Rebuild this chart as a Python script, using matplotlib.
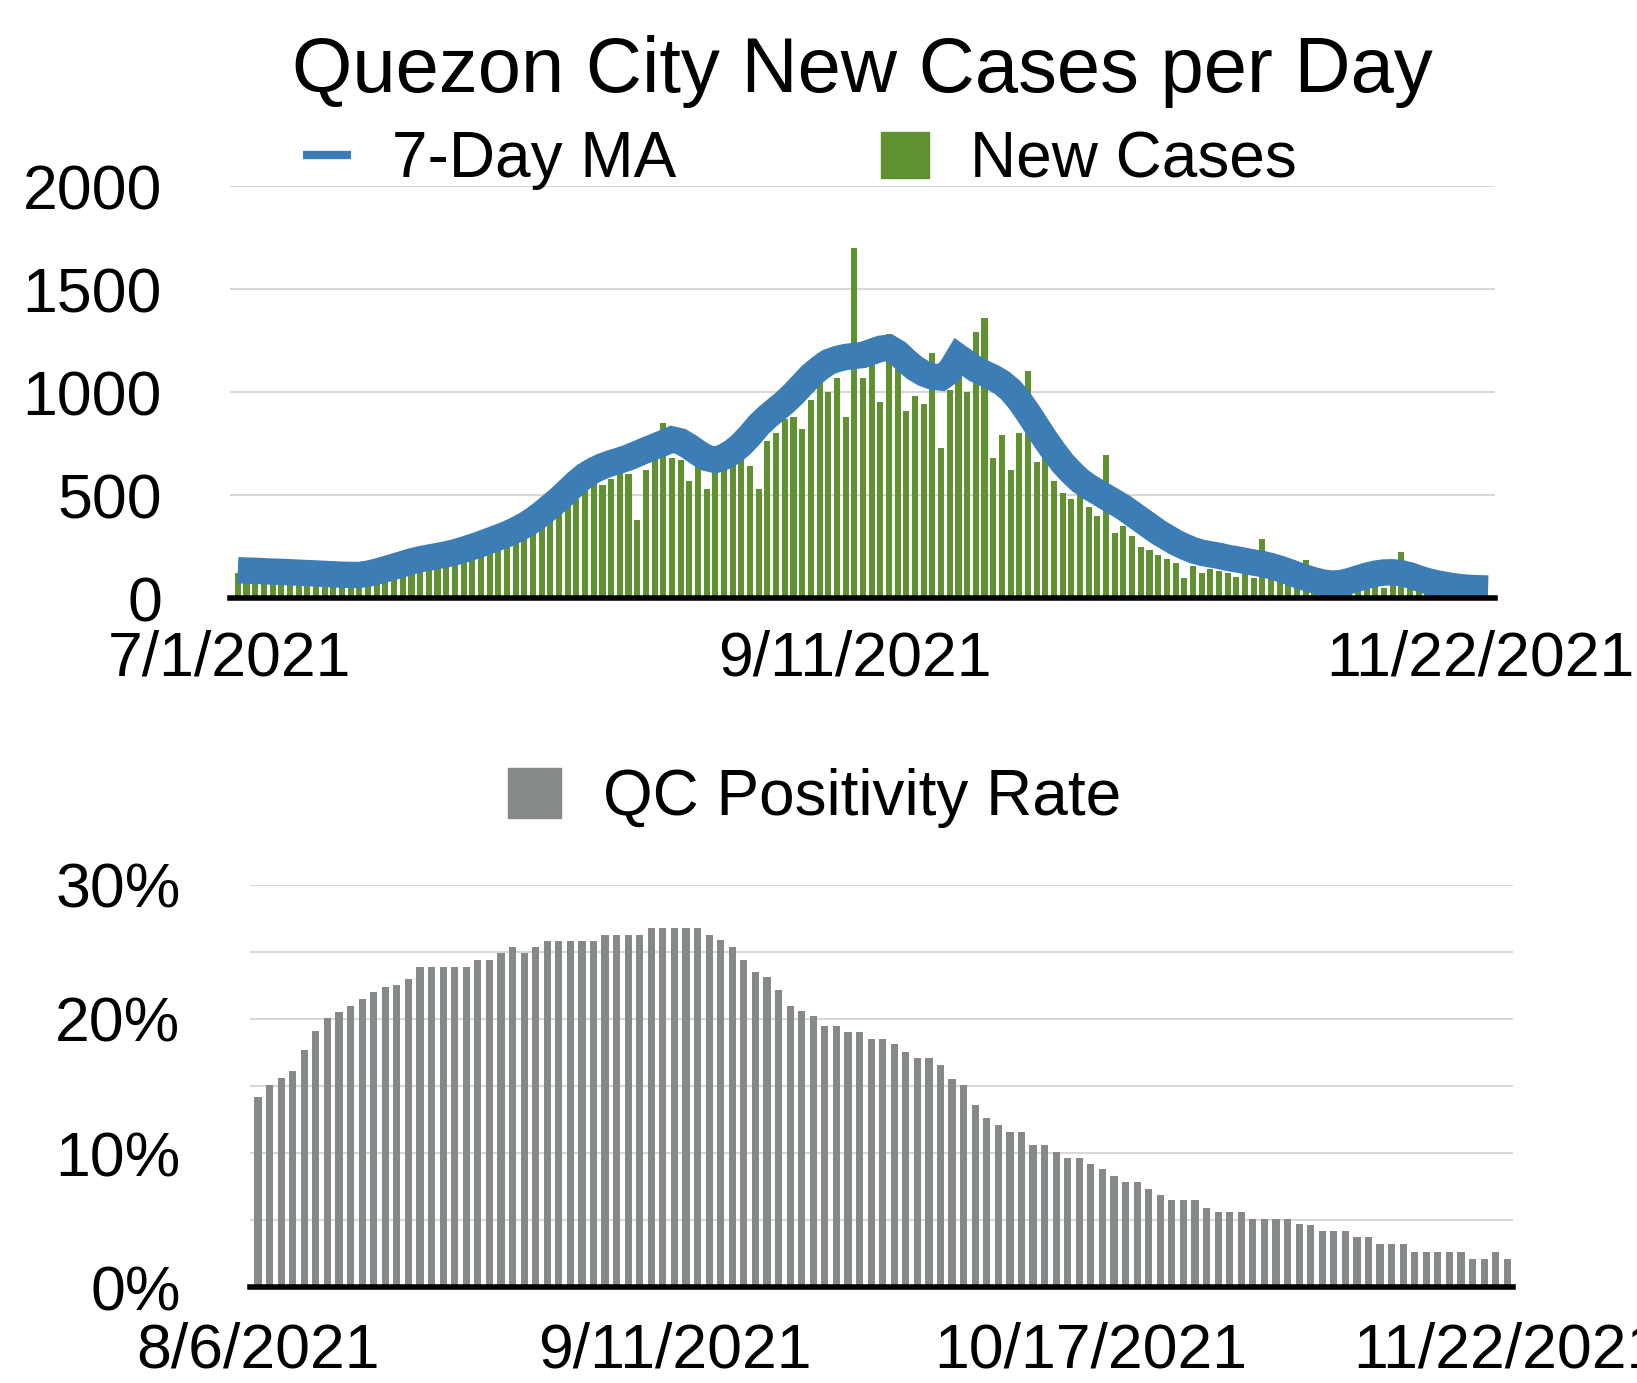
import matplotlib
matplotlib.use("Agg")
import matplotlib.pyplot as plt
import matplotlib.transforms as mtransforms
from matplotlib.lines import Line2D
from matplotlib.patches import Patch

plt.rcParams['font.family'] = ['Liberation Sans', 'DejaVu Sans']

# New cases per day, 7/1/2021 .. 11/22/2021 (145 days)
new_cases = [120, 135, 110, 95, 140, 130, 125, 105, 120, 95,
             115, 100, 110, 90, 105, 120, 130, 150, 170, 160,
             190, 200, 175, 210, 225, 215, 240, 250, 230, 280,
             300, 290, 330, 300, 340, 380, 420, 520, 450, 480,
             540, 560, 550, 580, 610, 600, 380, 620, 700, 850,
             680, 670, 570, 640, 530, 610, 650, 690, 700, 640,
             530, 760, 800, 870, 880, 820, 960, 1190, 1000, 1070,
             880, 1700, 1070, 1130, 950, 1280, 1210, 910, 980, 940,
             1190, 730, 1010, 1180, 1000, 1290, 1360, 680, 790, 620,
             800, 1100, 660, 850, 570, 510, 480, 520, 440, 400,
             695, 315, 350, 300, 250, 235, 210, 190, 170, 95,
             155, 120, 140, 130, 120, 100, 130, 95, 285, 90,
             85, 80, 60, 185, 40, 25, 20, 30, 25, 45,
             55, 60, 50, 70, 225, 55, 40, 30, 20, 15,
             20, 10, 15, 20, 10]

# 7-day moving average as drawn
ma7 = [135, 133, 132, 130, 128, 127, 125, 123, 121, 119,
       117, 115, 113, 112, 112, 118, 128, 140, 152, 165,
       178, 188, 196, 204, 212, 222, 234, 248, 262, 278,
       294, 310, 330, 352, 378, 410, 445, 480, 520, 560,
       595, 620, 640, 655, 668, 682, 700, 718, 735, 752,
       770, 760, 735, 705, 680, 670, 685, 710, 745, 790,
       840, 880, 915, 950, 990, 1035, 1080, 1115, 1145, 1160,
       1170, 1175, 1180, 1195, 1210, 1215, 1190, 1150, 1115, 1090,
       1075, 1070, 1100, 1170, 1140, 1110, 1090, 1070, 1045, 1010,
       960, 900, 835, 770, 710, 655, 610, 570, 540, 515,
       490, 465, 440, 410, 380, 350, 320, 295, 270, 250,
       232, 220, 212, 205, 195, 188, 180, 172, 165, 155,
       142, 128, 112, 98, 85, 75, 70, 72, 82, 95,
       108, 118, 124, 125, 120, 110, 95, 82, 72, 64,
       57, 52, 49, 47, 46]

top_ticks = [0, 72, 144]
top_labels = ['7/1/2021', '9/11/2021', '11/22/2021']

# QC positivity rate (%), 8/6/2021 .. 11/22/2021 (109 days)
positivity = [14.2, 15.1, 15.6, 16.1, 17.7, 19.1, 20.1, 20.5, 21.0, 21.5,
              22.0, 22.4, 22.5, 23.0, 23.9, 23.9, 23.9, 23.9, 23.9, 24.4,
              24.4, 24.9, 25.4, 24.9, 25.4, 25.8, 25.8, 25.8, 25.8, 25.8,
              26.3, 26.3, 26.3, 26.3, 26.8, 26.8, 26.8, 26.8, 26.8,
              26.3, 25.9, 25.4, 24.4, 23.5, 23.1, 22.2, 21.0, 20.6, 20.2, 19.5,
              19.5, 19.0, 19.0, 18.5, 18.5, 18.1, 17.5, 17.1, 17.1, 16.6,
              15.5, 15.1, 13.6, 12.6, 12.1, 11.6, 11.6, 10.6, 10.6, 10.1,
              9.6, 9.6, 9.2, 8.8, 8.3, 7.8, 7.8, 7.3, 6.9, 6.5,
              6.5, 6.5, 5.9, 5.6, 5.6, 5.6, 5.1, 5.1, 5.1, 5.1,
              4.7, 4.6, 4.2, 4.2, 4.2, 3.7, 3.7, 3.2, 3.2, 3.2,
              2.6, 2.6, 2.6, 2.6, 2.6, 2.1, 2.1, 2.6, 2.1]

bottom_ticks = [0, 36, 72, 108]
bottom_labels = ['8/6/2021', '9/11/2021', '10/17/2021', '11/22/2021']

green = '#5f9130'
blue = '#3b7db4'
grey = '#85898a'
gridc = '#d8d8d8'

fig = plt.figure(figsize=(16.37, 13.83), dpi=100)

# top chart
ax1 = fig.add_axes([0.1405, 0.5676, 0.7728, 0.2979])
days = list(range(len(new_cases)))
ax1.bar(days, new_cases, width=0.7, color=green, zorder=2)
ax1.plot(days, ma7, color=blue, lw=19, solid_capstyle='butt',
         solid_joinstyle='miter', zorder=3)
ax1.set_xlim(-0.9, len(new_cases) - 0.2)
ax1.set_ylim(0, 2000)
ax1.set_yticks([0, 500, 1000, 1500, 2000])
ax1.set_xticks(top_ticks)
ax1.set_xticklabels(top_labels)
ax1.grid(axis='y', color=gridc, lw=1.5)
ax1.set_axisbelow(True)
for s in ['top', 'right', 'left']:
    ax1.spines[s].set_visible(False)
ax1.spines['bottom'].set_linewidth(4)
ax1.spines['bottom'].set_zorder(4)
ax1.tick_params(axis='both', length=0, labelsize=45)
ax1.tick_params(axis='y', pad=49)
ax1.tick_params(axis='x', pad=23)
# date labels sit a little left of their bars in the original
shift = mtransforms.ScaledTranslation(-0.08, 0, fig.dpi_scale_trans)
for lab in ax1.get_xticklabels():
    lab.set_transform(lab.get_transform() + shift)

fig.text(0.5266, 0.9335, 'Quezon City New Cases per Day', ha='center',
         va='baseline', fontsize=56)

h1 = [Line2D([], [], color=blue, lw=6, solid_capstyle='butt'),
      Patch(color=green)]
fig.legend(h1, ['7-Day MA', 'New Cases'], loc='center left',
           bbox_to_anchor=(0.1851, 0.8840), ncol=2, frameon=False,
           fontsize=46, handlelength=0.75, handleheight=0.73,
           handletextpad=0.64, columnspacing=3.21, borderpad=0,
           borderaxespad=0)

# bottom chart
ax2 = fig.add_axes([0.1527, 0.0694, 0.7716, 0.2907])
pdays = list(range(len(positivity)))
ax2.bar(pdays, positivity, width=0.62, color=grey, zorder=2)
ax2.set_xlim(-0.7, len(positivity) - 0.5)
ax2.set_ylim(0, 30)
ax2.set_yticks([0, 10, 20, 30])
ax2.set_yticklabels(['0%', '10%', '20%', '30%'])
ax2.set_yticks([5, 15, 25], minor=True)
ax2.set_xticks(bottom_ticks)
ax2.set_xticklabels(bottom_labels)
ax2.grid(axis='y', which='both', color=gridc, lw=1.5)
ax2.set_axisbelow(True)
for s in ['top', 'right', 'left']:
    ax2.spines[s].set_visible(False)
ax2.spines['bottom'].set_linewidth(4)
ax2.spines['bottom'].set_zorder(4)
ax2.tick_params(axis='both', which='both', length=0, labelsize=45)
ax2.tick_params(axis='y', pad=50)
ax2.tick_params(axis='x', pad=25)

h2 = [Patch(color=grey)]
fig.legend(h2, ['QC Positivity Rate'], loc='center left',
           bbox_to_anchor=(0.3103, 0.4230), frameon=False, fontsize=46,
           handlelength=0.83, handleheight=0.83, handletextpad=0.66,
           borderpad=0, borderaxespad=0)

fig.savefig('out.png', dpi=100, facecolor='white')
